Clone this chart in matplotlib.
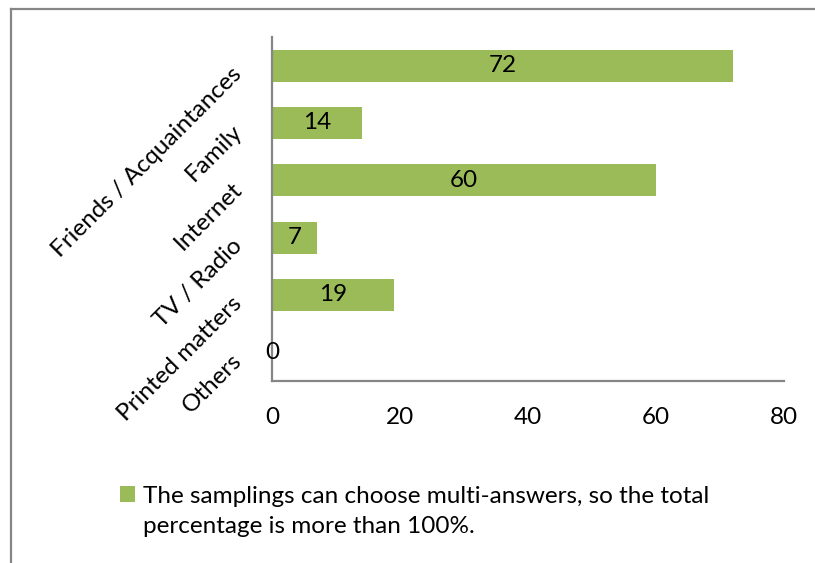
import matplotlib
matplotlib.use("Agg")
import matplotlib.pyplot as plt
from matplotlib.lines import Line2D
from matplotlib.transforms import ScaledTranslation

# chart data
categories = ["Friends / Acquaintances", "Family", "Internet", "TV / Radio",
              "Printed matters", "Others"]
values = [72, 14, 60, 7, 19, 0]
x_ticks = [0, 20, 40, 60, 80]
note_lines = ["The samplings can choose multi-answers, so the total",
              "percentage is more than 100%."]

bar_color = "#9BBB59"
grey = "#868686"
fs = 17.5

plt.rcParams['font.family'] = ['Lato', 'DejaVu Sans']

fig = plt.figure(figsize=(8.15, 5.63), dpi=100)
ax = fig.add_axes([0.3337, 0.3233, 0.6283, 0.611])

pos = list(range(len(categories)))
bars = ax.barh(pos, values, height=0.56, color=bar_color, label=note_lines[0])
ax.bar_label(bars, labels=[str(v) for v in values], label_type='center',
             fontsize=fs, color='black')

ax.set_ylim(len(categories) - 0.5, -0.5)
ax.set_xlim(0, 80)
ax.set_xticks(x_ticks)
ax.set_xticklabels([str(t) for t in x_ticks], fontsize=fs)
ax.tick_params(axis='x', length=0, pad=19)
ax.set_yticks(pos)
ax.set_yticklabels(categories, fontsize=fs, rotation=45, ha='right',
                   va='center', rotation_mode='anchor')
ax.tick_params(axis='y', length=0, pad=24)
# nudge the slanted labels a little lower, like the original
shift = ScaledTranslation(0, -5 / 100, fig.dpi_scale_trans)
for lab in ax.get_yticklabels():
    lab.set_transform(lab.get_transform() + shift)

for side in ['top', 'right']:
    ax.spines[side].set_visible(False)
for side in ['left', 'bottom']:
    ax.spines[side].set_color(grey)
    ax.spines[side].set_linewidth(1.6)

# outer chart frame (only top and left edges visible)
fig.add_artist(Line2D([11 / 815, 1.0], [1 - 9 / 563, 1 - 9 / 563],
                      transform=fig.transFigure, color=grey, lw=1.6))
fig.add_artist(Line2D([11 / 815, 11 / 815], [0, 1 - 9 / 563],
                      transform=fig.transFigure, color=grey, lw=1.6))

leg = fig.legend(loc='upper left', bbox_to_anchor=(0.147, 0.137),
                 frameon=False, fontsize=fs, handlelength=0.62,
                 handleheight=0.62, handletextpad=0.33, borderaxespad=0,
                 borderpad=0)

# second line of the legend note, placed right under the first one
fig.canvas.draw()
ext = leg.get_texts()[0].get_window_extent()
fig.text(ext.x0 / 815, (ext.y1 - 30) / 563, note_lines[1], fontsize=fs,
         ha='left', va='top')

fig.savefig("out.png", dpi=100)
